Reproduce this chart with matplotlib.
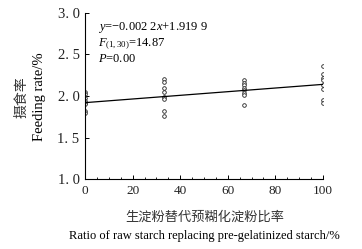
import matplotlib
matplotlib.use("Agg")
import matplotlib.pyplot as plt
import numpy as np

plt.rcParams["mathtext.fontset"] = "custom"
plt.rcParams["mathtext.rm"] = "Liberation Serif"
plt.rcParams["mathtext.it"] = "Liberation Serif:italic"
plt.rcParams["mathtext.bf"] = "Liberation Serif:bold"

# Data
levels = [0, 33.3, 66.7, 100]
group_0 = [2.05, 2.02, 1.97, 1.94, 1.92, 1.90, 1.82, 1.80]
group_33 = [2.20, 2.17, 2.10, 2.05, 1.99, 1.96, 1.82, 1.76]
group_67 = [2.19, 2.16, 2.13, 2.10, 2.07, 2.04, 2.01, 1.89]
group_100 = [2.36, 2.26, 2.22, 2.19, 2.13, 2.08, 1.95, 1.92]
slope = 0.0022
intercept = 1.9199
xticks = [0, 20, 40, 60, 80, 100]
yticks = [1.0, 1.5, 2.0, 2.5, 3.0]
ytick_labels = ["1. 0", "1. 5", "2. 0", "2. 5", "3. 0"]

serif = ["Liberation Serif", "DejaVu Serif"]
cjk = ["Noto Sans CJK SC", "DejaVu Sans"]

fig = plt.figure(figsize=(3.62, 2.49), dpi=100)
ax = fig.add_axes([0.235, 0.281, 0.657, 0.667])

groups = [group_0, group_33, group_67, group_100]
for lv, g in zip(levels, groups):
    ax.plot([lv] * len(g), g, linestyle="none", marker="o", markersize=2.6,
            markerfacecolor="white", markeredgecolor="#222", markeredgewidth=0.6)

xl = np.array([0, 100])
ax.plot(xl, intercept + slope * xl, color="black", linewidth=0.9)

ax.set_xlim(0, 100)
ax.set_ylim(1.0, 3.0)
ax.set_xticks(xticks)
ax.set_xticks(np.arange(0, 101, 5), minor=True)
ax.set_xticklabels([str(t) for t in xticks], fontfamily=serif, fontsize=9.5, color="#222")
ax.set_yticks(yticks)
ax.set_yticklabels(ytick_labels, fontfamily=serif, fontsize=10.5, color="#222")
ax.tick_params(direction="in", length=3, width=0.7, pad=4)
ax.tick_params(which="minor", direction="in", length=1.5, width=0.6)
for s in ["top", "right"]:
    ax.spines[s].set_visible(False)
for s in ["left", "bottom"]:
    ax.spines[s].set_linewidth(0.8)

ax.text(0.055, 0.91, r"$\it{y}$=−0.002 2$\it{x}$+1.919 9", transform=ax.transAxes,
        fontfamily=serif, fontsize=9, va="center", ha="left")
ax.text(0.055, 0.813, r"$\it{F}_{(1,30)}$=14.87", transform=ax.transAxes,
        fontfamily=serif, fontsize=9, va="center", ha="left")
ax.text(0.055, 0.723, r"$\it{P}$=0.00", transform=ax.transAxes,
        fontfamily=serif, fontsize=9, va="center", ha="left")

fig.text(0.06, 0.61, "摄食率", rotation=90, fontfamily=cjk, fontsize=10,
         color="#333", ha="center", va="center")
fig.text(0.11, 0.61, "Feeding rate/%", rotation=90, fontfamily=serif, fontsize=10.5,
         ha="center", va="center")
fig.text(0.565, 0.128, "生淀粉替代预糊化淀粉比率", fontfamily=cjk, fontsize=9.5,
         color="#333", ha="center", va="center")
fig.text(0.565, 0.052, "Ratio of raw starch replacing pre-gelatinized starch/%",
         fontfamily=serif, fontsize=9, ha="center", va="center")

fig.savefig("out.png", dpi=100)
